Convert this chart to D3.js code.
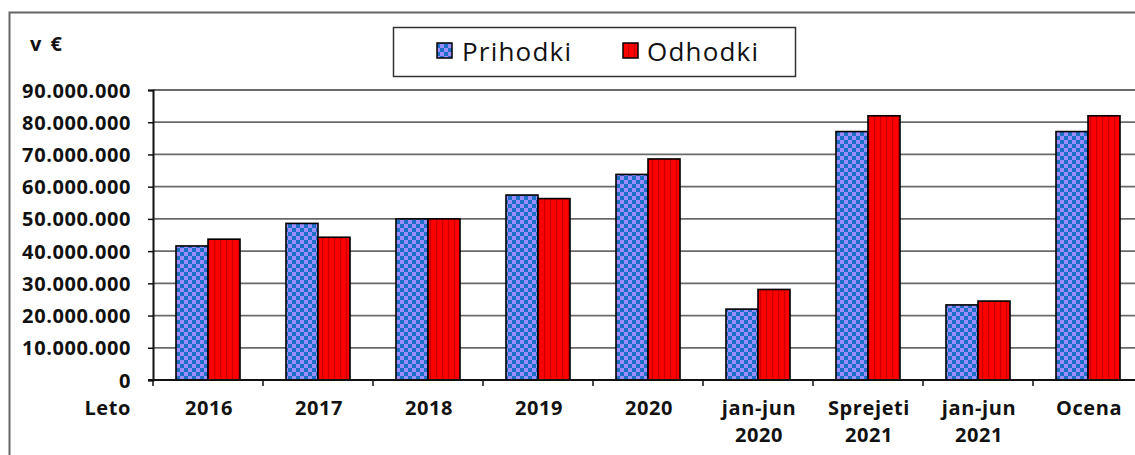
<!DOCTYPE html>
<html><head><meta charset="utf-8">
<script src="https://cdn.jsdelivr.net/npm/d3@7/dist/d3.min.js"></script>
<style>body{margin:0;background:#fff}svg{display:block}</style>
</head><body>
<svg id="c" width="1135" height="455"></svg>
<script>
const categories = [["2016"],["2017"],["2018"],["2019"],["2020"],["jan-jun","2020"],["Sprejeti","2021"],["jan-jun","2021"],["Ocena"]];
const series = ["Prihodki","Odhodki"];
const prihodki = [41.6e6, 48.6e6, 50.0e6, 57.4e6, 63.8e6, 22.0e6, 77.1e6, 23.3e6, 77.1e6];
const odhodki  = [43.7e6, 44.3e6, 50.0e6, 56.3e6, 68.6e6, 28.1e6, 82.0e6, 24.5e6, 82.0e6];
const yTicks = [0,10e6,20e6,30e6,40e6,50e6,60e6,70e6,80e6,90e6];

const svg = d3.select("#c");
const defs = svg.append("defs");
const chk = defs.append("pattern").attr("id","chk").attr("patternUnits","userSpaceOnUse")
  .attr("width",8).attr("height",8).attr("x",0).attr("y",0);
chk.append("rect").attr("width",8).attr("height",8).attr("fill","#9b8cff");
chk.append("rect").attr("width",4).attr("height",4).attr("fill","#1b6fc6");
chk.append("rect").attr("x",4).attr("y",4).attr("width",4).attr("height",4).attr("fill","#1b6fc6");
const str = defs.append("pattern").attr("id","str").attr("patternUnits","userSpaceOnUse")
  .attr("width",6).attr("height",6);
str.append("rect").attr("width",6).attr("height",6).attr("fill","#ff0000");
str.append("rect").attr("x",4).attr("width",1.2).attr("height",6).attr("fill","#c80000");

// outer frame
svg.append("path").attr("d","M9.5,456 V12.5 H1136").attr("fill","none").attr("stroke","#666").attr("stroke-width",2);

const left = 153, step = 110;
const x0 = d3.scaleBand().domain(d3.range(categories.length)).range([left, left + step*categories.length]);
const x1 = d3.scaleBand().domain(series).range([23, 87]);
const y = d3.scaleLinear().domain([0, 90e6]).range([380, 90]);

const fmt = v => d3.format(",")(v).replace(/,/g, ".");
const FS = 20, LS = 0.6;

// gridlines
svg.append("g").selectAll("line").data(yTicks.slice(1)).join("line")
  .attr("x1", left).attr("x2", 1135).attr("y1", d=>y(d)).attr("y2", d=>y(d))
  .attr("stroke","#6a6a6a").attr("stroke-width",1.8);

// y axis
const ya = svg.append("g").attr("transform",`translate(${left},0)`)
  .call(d3.axisLeft(y).tickValues(yTicks).tickSize(5).tickPadding(17).tickFormat(fmt));
ya.select(".domain").attr("stroke","#111").attr("stroke-width",2);
ya.selectAll(".tick line").attr("stroke","#111").attr("stroke-width",1.5);
ya.selectAll("text").attr("font-family","Open Sans").attr("font-weight","bold").attr("font-size",FS)
  .attr("letter-spacing",LS).attr("fill","#111").attr("dy","0.35em");

// bars
const data = categories.map((c,i)=>({i, vals:[prihodki[i], odhodki[i]]}));
const g = svg.append("g");
data.forEach(d=>{
  series.forEach((s,j)=>{
    const v = d.vals[j];
    g.append("rect")
      .attr("x", x0(d.i) + x1(s)).attr("width", x1.bandwidth())
      .attr("y", y(v)).attr("height", y(0)-y(v))
      .attr("fill", j===0 ? "url(#chk)" : "url(#str)")
      .attr("stroke","#000").attr("stroke-width",1.6);
  });
});

// x axis
const xa = svg.append("g").attr("transform","translate(0,380)");
xa.append("line").attr("x1",left-5).attr("x2",1135).attr("stroke","#111").attr("stroke-width",2);
xa.selectAll("line.t").data(d3.range(categories.length+1)).join("line").attr("class","t")
  .attr("x1", i=>left+i*step).attr("x2", i=>left+i*step).attr("y1",0).attr("y2",6)
  .attr("stroke","#111").attr("stroke-width",1.5);
const lab = svg.append("g").attr("font-family","Open Sans").attr("font-weight","bold").attr("font-size",FS)
  .attr("letter-spacing",LS).attr("fill","#111").attr("text-anchor","middle");
categories.forEach((c,i)=>{
  const t = lab.append("text").attr("x", x0(i)+step/2+1).attr("y",415);
  c.forEach((line,k)=> t.append("tspan").attr("x", x0(i)+step/2+1).attr("dy", k===0?0:27).text(line));
});
svg.append("text").attr("x",131).attr("y",415).attr("text-anchor","end")
  .attr("font-family","Open Sans").attr("font-weight","bold").attr("font-size",FS).attr("letter-spacing",LS).attr("fill","#111").text("Leto");
svg.append("text").attr("x",30).attr("y",51)
  .attr("font-family","Open Sans").attr("font-weight","bold").attr("font-size",FS).attr("letter-spacing",2).attr("fill","#111").text("v €");

// legend
const lg = svg.append("g");
lg.append("rect").attr("x",393.5).attr("y",27.5).attr("width",402).attr("height",49).attr("fill","#fff").attr("stroke","#333").attr("stroke-width",1.5);
const items = [{s:series[0], fill:"url(#chk)", x:437, tx:462},{s:series[1], fill:"url(#str)", x:623, tx:647}];
items.forEach(it=>{
  lg.append("rect").attr("x",it.x).attr("y",43).attr("width",15).attr("height",15).attr("fill",it.fill).attr("stroke","#000").attr("stroke-width",1.5);
  lg.append("text").attr("x",it.tx).attr("y",61).attr("font-family","Open Sans").attr("font-size",26)
    .attr("letter-spacing",1.2).attr("fill","#111").text(it.s);
});
</script>
</body></html>
